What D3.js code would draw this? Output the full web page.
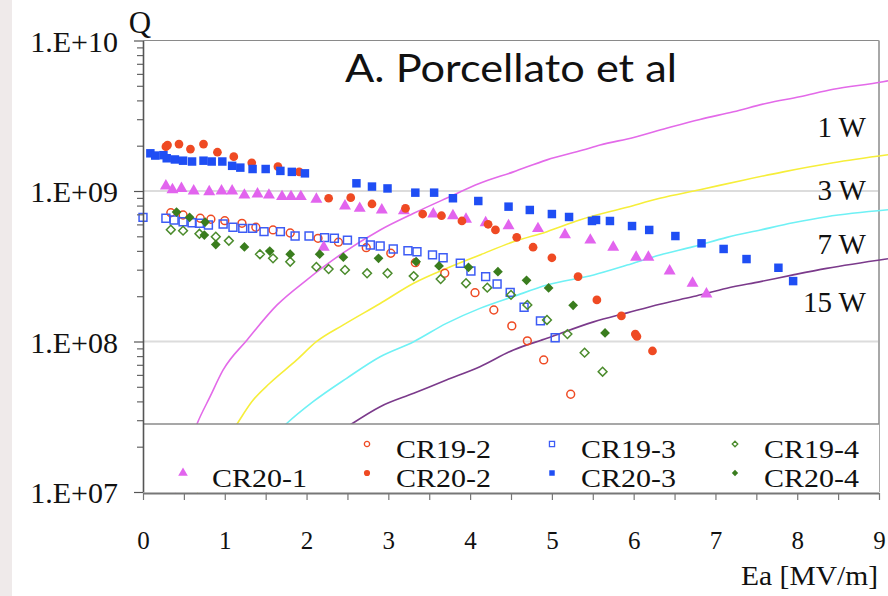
<!DOCTYPE html>
<html>
<head>
<meta charset="utf-8">
<script src="https://cdn.jsdelivr.net/npm/d3@7"></script>
<style>
  html, body { margin: 0; padding: 0; background: #ffffff; }
  svg { display: block; }
</style>
</head>
<body>
<svg id="chart" width="888" height="596"></svg>
<script>
// ---------- DATA ----------
const seriesNames = ["CR19-2", "CR19-3", "CR19-4", "CR20-1", "CR20-2", "CR20-3", "CR20-4"];

const cr19_2 = [[0.34,7.17e8],[0.49,6.93e8],[0.70,6.59e8],[0.83,6.49e8],[1.00,6.35e8],[1.21,6.10e8],[1.38,5.74e8],[1.59,5.51e8],[1.80,5.26e8],[2.14,4.85e8],[2.39,4.57e8],[2.73,4.20e8],[3.03,3.86e8],[3.33,3.34e8],[3.69,2.84e8],[4.06,2.11e8],[4.29,1.62e8],[4.51,1.27e8],[4.70,1.01e8],[4.90,7.54e7],[5.23,4.46e7]];
const cr19_3 = [[0.0,6.68e8],[0.28,6.59e8],[0.38,6.42e8],[0.49,6.25e8],[0.60,6.15e8],[0.69,6.10e8],[0.80,5.94e8],[0.98,6.04e8],[1.10,5.74e8],[1.22,5.65e8],[1.34,5.65e8],[1.48,5.37e8],[1.68,5.37e8],[1.86,5.02e8],[2.03,5.02e8],[2.22,4.90e8],[2.34,4.85e8],[2.50,4.72e8],[2.69,4.60e8],[2.78,4.38e8],[2.90,4.31e8],[3.06,4.12e8],[3.24,4.01e8],[3.35,3.95e8],[3.54,3.76e8],[3.67,3.60e8],[3.88,3.31e8],[4.01,2.94e8],[4.19,2.70e8],[4.33,2.41e8],[4.49,2.12e8],[4.66,1.69e8],[4.86,1.37e8],[5.04,1.06e8]];
const cr19_4 = [[0.34,5.53e8],[0.49,5.45e8],[0.69,5.20e8],[0.89,4.97e8],[1.05,4.67e8],[1.43,3.80e8],[1.59,3.57e8],[1.80,3.39e8],[2.12,3.13e8],[2.27,3.03e8],[2.47,2.99e8],[2.74,2.84e8],[2.99,2.84e8],[3.31,2.72e8],[3.64,2.60e8],[3.95,2.44e8],[4.21,2.28e8],[4.50,2.04e8],[4.70,1.75e8],[4.94,1.39e8],[5.19,1.12e8],[5.40,8.43e7],[5.62,6.30e7]];
const cr20_1 = [[0.28,1.08e9],[0.36,1.02e9],[0.47,1.04e9],[0.62,1.00e9],[0.81,9.89e8],[0.96,1.00e9],[1.09,1.00e9],[1.24,9.40e8],[1.40,9.55e8],[1.54,9.40e8],[1.70,9.17e8],[1.81,9.17e8],[1.93,9.17e8],[2.12,8.81e8],[2.21,4.23e8],[2.47,7.95e8],[2.65,7.67e8],[2.92,7.48e8],[3.19,7.40e8],[3.55,7.03e8],[3.79,6.85e8],[3.95,6.49e8],[4.19,6.15e8],[4.47,5.88e8],[4.83,5.62e8],[5.16,5.12e8],[5.47,4.72e8],[5.75,4.23e8],[6.03,3.63e8],[6.18,3.63e8],[6.44,2.94e8],[6.72,2.44e8],[6.89,2.07e8]];
const cr20_2 = [[0.28,1.97e9],[0.30,2.02e9],[0.44,2.05e9],[0.58,1.90e9],[0.74,2.05e9],[0.91,1.81e9],[1.11,1.69e9],[1.33,1.54e9],[1.65,1.45e9],[1.91,1.34e9],[2.27,8.95e8],[2.54,9.03e8],[2.80,8.20e8],[3.21,7.67e8],[3.42,7.03e8],[3.65,6.85e8],[3.90,6.32e8],[4.22,6.01e8],[4.31,5.51e8],[4.57,4.92e8],[4.77,4.23e8],[5.00,3.60e8],[5.32,2.70e8],[5.55,1.89e8],[5.85,1.48e8],[6.02,1.12e8],[6.04,1.08e8],[6.23,8.65e7]];
const cr20_3 = [[0.09,1.78e9],[0.15,1.72e9],[0.25,1.73e9],[0.29,1.65e9],[0.39,1.62e9],[0.49,1.59e9],[0.60,1.57e9],[0.74,1.59e9],[0.84,1.57e9],[0.97,1.57e9],[1.09,1.47e9],[1.19,1.43e9],[1.34,1.40e9],[1.50,1.40e9],[1.68,1.36e9],[1.82,1.34e9],[1.98,1.31e9],[2.61,1.125e9],[2.80,1.07e9],[2.99,1.04e9],[3.33,9.75e8],[3.56,9.75e8],[3.79,8.95e8],[4.10,8.58e8],[4.47,7.87e8],[4.73,7.48e8],[5.00,7.03e8],[5.21,6.72e8],[5.49,6.32e8],[5.54,6.42e8],[5.71,6.32e8],[5.98,5.85e8],[6.19,5.51e8],[6.51,5.02e8],[6.83,4.49e8],[7.10,4.12e8],[7.38,3.53e8],[7.77,3.09e8],[7.95,2.52e8]];
const cr20_4 = [[0.41,7.25e8],[0.57,6.68e8],[0.76,6.22e8],[0.75,5.10e8],[0.89,4.41e8],[1.24,4.25e8],[1.55,3.99e8],[1.80,3.80e8],[2.16,3.80e8],[2.45,3.63e8],[2.88,3.57e8],[3.34,3.39e8],[3.62,3.18e8],[3.98,3.11e8],[4.34,2.91e8],[4.69,2.55e8],[4.96,2.27e8],[5.26,1.74e8],[5.65,1.14e8]];

const powerLabels = ["1 W", "3 W", "7 W", "15 W"];
const p1W  = [[0.39,1.0e7],[0.66,2.83e7],[0.82,4.30e7],[0.98,6.47e7],[1.27,1.02e8],[1.64,1.75e8],[2.00,2.56e8],[2.41,3.76e8],[2.90,5.51e8],[3.31,7.11e8],[3.71,8.95e8],[4.12,1.125e9],[4.53,1.34e9],[4.94,1.61e9],[5.38,1.87e9],[5.59,2.02e9],[6.00,2.27e9],[6.40,2.61e9],[6.81,2.99e9],[7.22,3.36e9],[7.63,3.83e9],[8.03,4.23e9],[8.44,4.74e9],[9.05,5.32e9],[9.11,5.40e9]];
const p3W  = [[0.66,1.0e7],[1.15,2.83e7],[1.33,3.98e7],[1.55,5.28e7],[1.88,7.54e7],[2.12,9.97e7],[2.45,1.29e8],[2.90,1.79e8],[3.31,2.44e8],[3.71,3.06e8],[4.12,3.76e8],[4.53,4.60e8],[4.94,5.37e8],[5.34,6.42e8],[5.92,7.80e8],[6.32,8.95e8],[6.81,1.02e9],[7.34,1.18e9],[7.83,1.34e9],[8.44,1.54e9],[9.11,1.74e9]];
const p7W  = [[1.00,1.0e7],[1.75,2.83e7],[2.08,3.98e7],[2.49,5.69e7],[2.90,7.92e7],[3.31,9.97e7],[3.71,1.32e8],[4.12,1.66e8],[4.53,1.99e8],[4.94,2.37e8],[5.51,2.77e8],[5.92,3.22e8],[6.32,3.76e8],[6.73,4.27e8],[7.14,4.92e8],[7.55,5.51e8],[7.95,6.15e8],[8.36,6.75e8],[9.11,7.50e8]];
const p15W = [[1.50,1.0e7],[2.55,2.83e7],[2.90,3.69e7],[3.31,4.53e7],[3.71,5.55e7],[4.12,6.80e7],[4.53,8.79e7],[4.94,1.05e8],[5.51,1.35e8],[5.92,1.55e8],[6.32,1.77e8],[6.73,1.99e8],[7.14,2.26e8],[7.55,2.50e8],[7.95,2.77e8],[8.36,3.06e8],[9.11,3.55e8]];

const yTickValues = [1e7, 1e8, 1e9, 1e10];
const yTickLabels = ["1.E+07", "1.E+08", "1.E+09", "1.E+10"];
const xTickValues = [0, 1, 2, 3, 4, 5, 6, 7, 8, 9];
const xTickLabels = ["0", "1", "2", "3", "4", "5", "6", "7", "8", "9"];
const xMinorTicks = [0.5, 1.5, 2.5, 3.5, 4.5, 5.5, 6.5, 7.5, 8.5];

// ---------- SETUP ----------
const svg = d3.select("#chart");
const serif = "'Liberation Serif', 'Times New Roman', serif";
const X0 = 143, X1 = 879, Y0 = 492, Y1 = 40.5;
const x = d3.scaleLinear().domain([0, 9]).range([X0, X1]);
const y = d3.scaleLog().domain([1e7, 1e10]).range([Y0, Y1]);

// square diamond symbol (rotated square, equal width/height)
const symbolRhomb = {
  draw(ctx, size) {
    const r = Math.sqrt(size) * 0.62;
    ctx.moveTo(0, -r); ctx.lineTo(r, 0); ctx.lineTo(0, r); ctx.lineTo(-r, 0); ctx.closePath();
  }
};

// left slide strip
svg.append("rect").attr("x", 0).attr("y", 0).attr("width", 12).attr("height", 596).attr("fill", "#efeaea");

// gridlines
svg.append("g").selectAll("line").data([1e8, 1e9]).join("line")
  .attr("x1", X0).attr("x2", X1).attr("y1", d => y(d)).attr("y2", d => y(d))
  .attr("stroke", "#dcdcdc").attr("stroke-width", 2);

// borders (top + right)
svg.append("line").attr("x1", X0).attr("x2", X1).attr("y1", Y1).attr("y2", Y1)
  .attr("stroke", "#8a8a8a").attr("stroke-width", 1.2);
svg.append("line").attr("x1", X1).attr("x2", X1).attr("y1", Y1).attr("y2", Y0)
  .attr("stroke", "#a8a8a8").attr("stroke-width", 2);

// power curves
const curveData = [p1W, p3W, p7W, p15W];
const curveColors = ["#e36ae9", "#f6ee3a", "#6ff1f5", "#7b3a8b"];
const line = d3.line().x(d => x(d[0])).y(d => y(d[1])).curve(d3.curveMonotoneX);
svg.append("g").selectAll("path").data(curveData).join("path")
  .attr("d", line).attr("fill", "none")
  .attr("stroke", (d, i) => curveColors[i]).attr("stroke-width", 1.6);

// markers
const seriesData = [cr19_2, cr19_3, cr19_4, cr20_1, cr20_2, cr20_3, cr20_4];
const red = "#ef4a23", blue = "#1f4ef4", blueOpen = "#3d5cf5", green = "#3a7d1e", greenOpen = "#4b8b2c", violet = "#e264ee";
const styles = [
  { type: d3.symbolCircle, size: 48, fill: "none", stroke: red, sw: 1.5 },
  { type: d3.symbolSquare, size: 62, fill: "none", stroke: blueOpen, sw: 1.5 },
  { type: symbolRhomb, size: 50, fill: "none", stroke: greenOpen, sw: 1.5 },
  { type: d3.symbolTriangle, size: 62, fill: violet, stroke: "none", sw: 0 },
  { type: d3.symbolCircle, size: 60, fill: red, stroke: "none", sw: 0 },
  { type: d3.symbolSquare, size: 72, fill: blue, stroke: "none", sw: 0 },
  { type: symbolRhomb, size: 62, fill: green, stroke: "none", sw: 0 }
];
seriesData.forEach((data, i) => {
  const st = styles[i];
  svg.append("g").selectAll("path").data(data).join("path")
    .attr("transform", d => `translate(${x(d[0])},${y(d[1])})`)
    .attr("d", d3.symbol().type(st.type).size(st.size))
    .attr("fill", st.fill).attr("stroke", st.stroke).attr("stroke-width", st.sw);
});

// legend box (covers lower part of plot)
const LT = 424;
svg.append("rect").attr("x", X0).attr("y", LT).attr("width", X1 - X0).attr("height", Y0 - LT).attr("fill", "#ffffff");
svg.append("line").attr("x1", X0).attr("x2", X1).attr("y1", LT).attr("y2", LT)
  .attr("stroke", "#8a8a8a").attr("stroke-width", 1.5);
const legendPos = [[367, 451], [552, 451], [735, 451], [183, 480], [367, 480], [552, 480], [735, 480]];
const legendSize = [22, 26, 20, 40, 30, 30, 26];
const lg = svg.append("g");
seriesNames.forEach((name, i) => {
  const st = styles[i];
  const [lx, ly] = legendPos[i];
  lg.append("path").attr("transform", `translate(${lx},${ly - 7})`)
    .attr("d", d3.symbol().type(st.type).size(legendSize[i]))
    .attr("fill", st.fill).attr("stroke", st.stroke).attr("stroke-width", st.sw ? 1.3 : 0);
  lg.append("text").attr("x", lx + 29).attr("y", ly + 7)
    .attr("font-family", serif).attr("font-size", 25).attr("fill", "#111")
    .attr("textLength", 95).attr("lengthAdjust", "spacingAndGlyphs")
    .text(name);
});

// y axis: minor ticks
const minorY = [];
[1e7, 1e8, 1e9].forEach(dec => { for (let k = 2; k <= 9; k++) minorY.push(dec * k); });
svg.append("g").attr("transform", `translate(${X0},0)`)
  .call(d3.axisLeft(y).tickValues(minorY).tickFormat("").tickSize(6).tickSizeOuter(0))
  .call(g => g.select(".domain").remove())
  .call(g => g.selectAll(".tick line").attr("stroke", "#666").attr("stroke-width", 1.2));
// y axis: major ticks + labels
svg.append("g").attr("transform", `translate(${X0},0)`)
  .call(d3.axisLeft(y).tickValues(yTickValues).tickFormat((d, i) => yTickLabels[i]).tickSize(9).tickPadding(16).tickSizeOuter(0))
  .call(g => g.select(".domain").attr("stroke", "#555").attr("stroke-width", 1.6))
  .call(g => g.selectAll(".tick line").attr("stroke", "#555").attr("stroke-width", 1.2))
  .call(g => g.selectAll(".tick text").attr("font-family", serif).attr("font-size", 30).attr("fill", "#111").attr("dy", "0.36em"));

// x axis: minor ticks
svg.append("g").attr("transform", `translate(0,${Y0 + 1})`)
  .call(d3.axisBottom(x).tickValues(xMinorTicks).tickFormat("").tickSize(7).tickSizeOuter(0))
  .call(g => g.select(".domain").remove())
  .call(g => g.selectAll(".tick line").attr("stroke", "#777").attr("stroke-width", 1.2));
// x axis: majors
svg.append("g").attr("transform", `translate(0,${Y0 + 1})`)
  .call(d3.axisBottom(x).tickValues(xTickValues).tickFormat((d, i) => xTickLabels[i]).tickSize(7).tickPadding(31).tickSizeOuter(0))
  .call(g => g.select(".domain").attr("stroke", "#777").attr("stroke-width", 2))
  .call(g => g.selectAll(".tick line").attr("stroke", "#777").attr("stroke-width", 1.2))
  .call(g => g.selectAll(".tick text").attr("font-family", serif).attr("font-size", 25).attr("fill", "#111"));

// axis titles
svg.append("text").attr("x", 140).attr("y", 33).attr("text-anchor", "middle")
  .attr("font-family", serif).attr("font-size", 31).attr("fill", "#111").text("Q");
svg.append("text").attr("x", 878).attr("y", 585).attr("text-anchor", "end")
  .attr("font-family", serif).attr("font-size", 27).attr("fill", "#111")
  .attr("textLength", 137).attr("lengthAdjust", "spacingAndGlyphs").text("Ea [MV/m]");

// power labels
const powerBaselines = [137, 200, 254, 312];
svg.append("g").selectAll("text").data(powerLabels).join("text")
  .attr("x", 866).attr("y", (d, i) => powerBaselines[i]).attr("text-anchor", "end")
  .attr("font-family", serif).attr("font-size", 29).attr("fill", "#111").text(d => d);

// title
svg.append("text").attr("x", 345).attr("y", 82)
  .attr("font-family", "Lato, 'Open Sans', sans-serif").attr("font-size", 38).attr("fill", "#111")
  .attr("textLength", 332).attr("lengthAdjust", "spacingAndGlyphs")
  .text("A. Porcellato et al");
</script>
</body>
</html>
